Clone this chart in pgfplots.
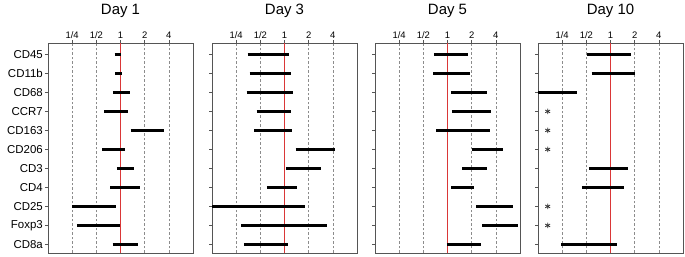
\documentclass[border=0pt]{standalone}
\usepackage{pgfplots}
\pgfplotsset{compat=1.18}
\usepackage{fontspec}
\setmainfont{Liberation Sans}
\definecolor{refred}{RGB}{218,55,55}
\definecolor{boxgray}{RGB}{85,85,85}
\pgfplotsset{
 panel/.style={
  scale only axis, width=145bp, height=210bp,
  xmin=-3, xmax=3, ymin=0.55, ymax=11.6,
  xtick={-2,-1,0,1,2}, xticklabels={1/4,1/2,1,2,4},
  xtick pos=upper, xticklabel pos=upper,
  ytick={1,...,11}, ytick pos=left, yticklabels={},
  tick align=outside, major tick length=3bp,
  tick style={boxgray, line width=0.6pt},
  axis line style={boxgray, line width=0.8pt},
  xmajorgrids, grid style={gray!90, dash pattern=on 2.5bp off 2bp, line width=0.6pt},
  xticklabel style={font=\fontsize{9.5}{10}\selectfont, inner sep=1.5bp},
  yticklabel style={font=\fontsize{11.5}{13}\selectfont, inner sep=2bp},
  title style={at={(0.5,1)}, anchor=base, yshift=23bp, font=\fontsize{15}{17}\selectfont},
  anchor=south west,
 },
 bar/.style={black, line width=3bp, unbounded coords=jump, line cap=butt},
 ref/.style={refred, line width=1.4bp},
}
\begin{document}
\begin{tikzpicture}
\useasboundingbox (0,0) rectangle (685bp,257bp);
% Day 1
\begin{axis}[panel, at={(48bp,4bp)}, title={Day 1},
  yticklabels={CD8a,Foxp3,CD25,CD4,CD3,CD206,CD163,CCR7,CD68,CD11b,CD45}]
\addplot[ref] coordinates {(0,0.55) (0,11.6)};
\addplot[bar] table {
x y
-0.24 11
0.04 11
nan nan
-0.21 10
0.07 10
nan nan
-0.32 9
0.375 9
nan nan
-0.67 8
0.32 8
nan nan
0.42 7
1.8 7
nan nan
-0.76 6
0.18 6
nan nan
-0.15 5
0.55 5
nan nan
-0.43 4
0.8 4
nan nan
-1.99 3
-0.2 3
nan nan
-1.8 2
0.0 2
nan nan
-0.33 1
0.71 1
};
\end{axis}
% Day 3
\begin{axis}[panel, at={(212bp,4bp)}, title={Day 3}]
\addplot[ref] coordinates {(0,0.55) (0,11.6)};
\addplot[bar] table {
x y
-1.53 11
0.17 11
nan nan
-1.44 10
0.25 10
nan nan
-1.57 9
0.36 9
nan nan
-1.15 8
0.28 8
nan nan
-1.25 7
0.32 7
nan nan
0.46 6
2.1 6
nan nan
0.08 5
1.53 5
nan nan
-0.73 4
0.5 4
nan nan
-3.2 3
0.85 3
nan nan
-1.78 2
1.74 2
nan nan
-1.68 1
0.15 1
};
\end{axis}
% Day 5
\begin{axis}[panel, at={(375bp,4bp)}, title={Day 5}]
\addplot[ref] coordinates {(0,0.55) (0,11.6)};
\addplot[bar] table {
x y
-0.56 11
0.83 11
nan nan
-0.6 10
0.93 10
nan nan
0.14 9
1.63 9
nan nan
0.18 8
1.78 8
nan nan
-0.47 7
1.75 7
nan nan
1.01 6
2.28 6
nan nan
0.62 5
1.63 5
nan nan
0.15 4
1.08 4
nan nan
1.19 3
2.73 3
nan nan
1.44 2
2.93 2
nan nan
-0.03 1
1.39 1
};
\end{axis}
% Day 10
\begin{axis}[panel, at={(538bp,4bp)}, title={Day 10}]
\addplot[ref] coordinates {(0,0.55) (0,11.6)};
\addplot[bar] table {
x y
-0.97 11
0.83 11
nan nan
-0.78 10
1.0 10
nan nan
-3.2 9
-1.4 9
nan nan
-0.9 5
0.72 5
nan nan
-1.18 4
0.57 4
nan nan
-2.03 1
0.28 1
};
\addplot[only marks, mark=asterisk, mark size=2.8bp, black!80, line width=0.8bp] coordinates {
(-2.6,8) (-2.6,7) (-2.6,6) (-2.6,3) (-2.6,2)};
\end{axis}
\end{tikzpicture}
\end{document}
